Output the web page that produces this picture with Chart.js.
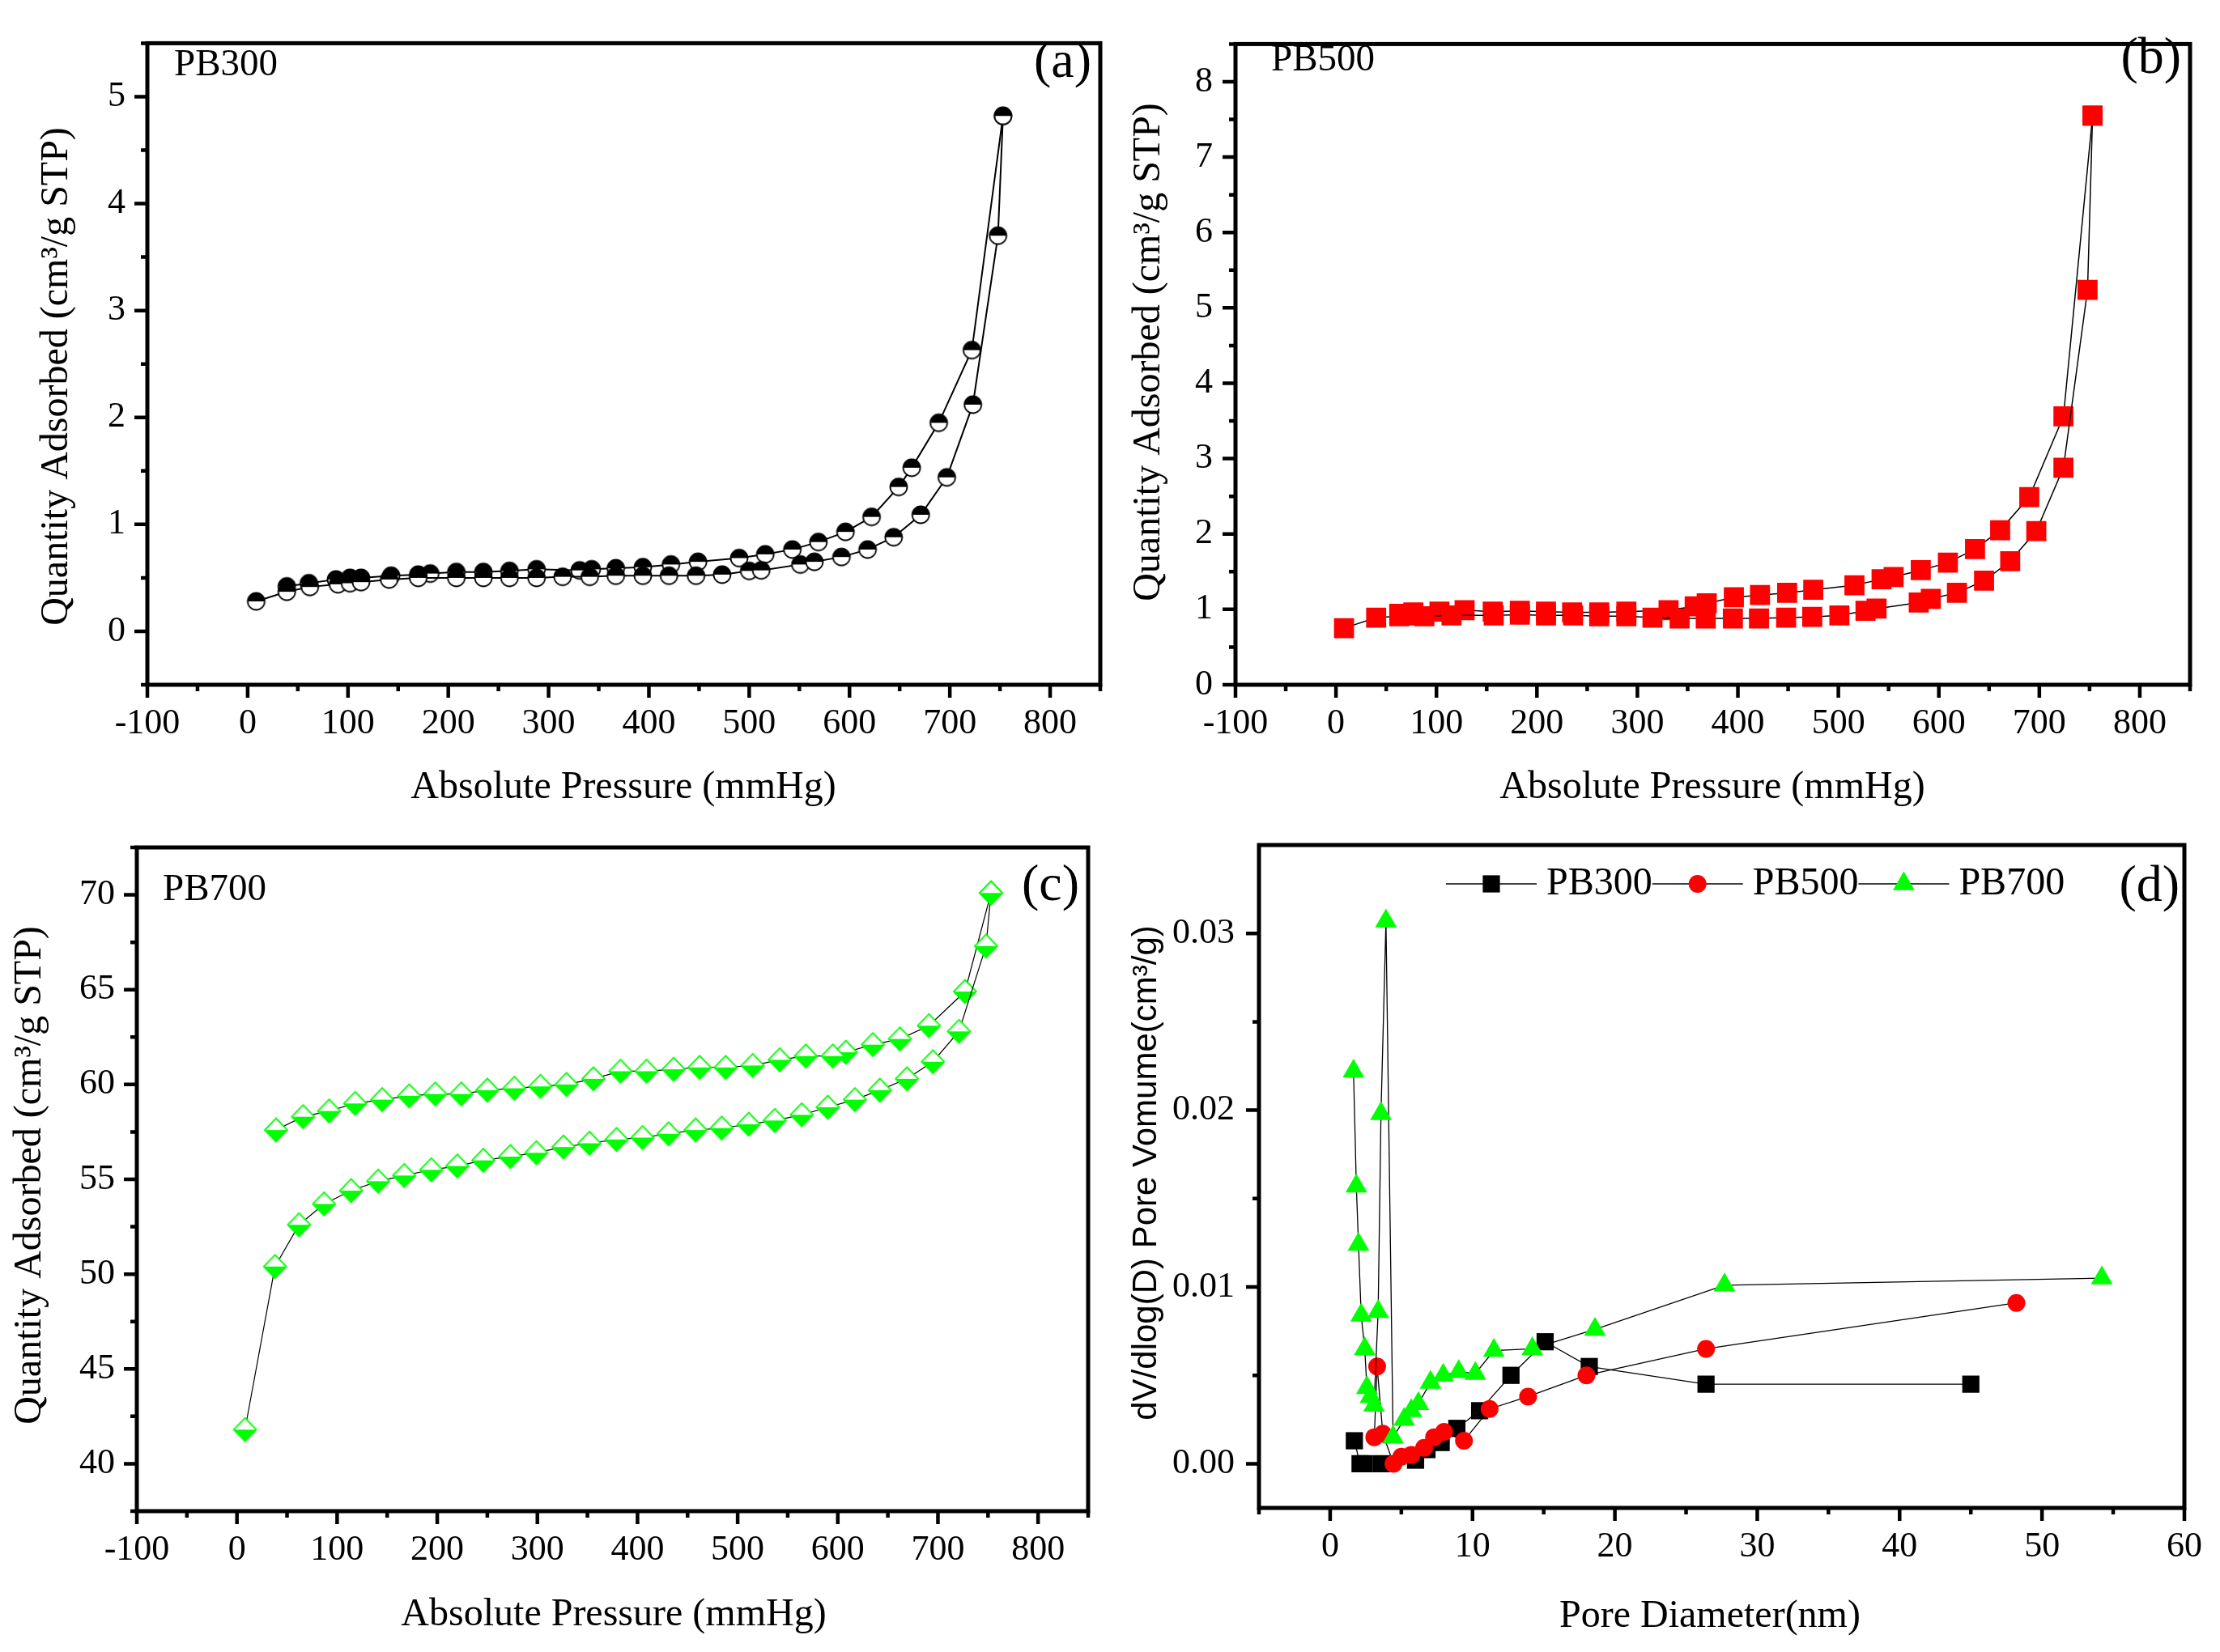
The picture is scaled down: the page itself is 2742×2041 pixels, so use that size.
<!DOCTYPE html>
<html>
<head>
<meta charset="utf-8">
<script src="https://cdn.jsdelivr.net/npm/chart.js@4.4.1/dist/chart.umd.min.js"></script>
<style>
  html, body { margin: 0; padding: 0; background: #fff; }
  #wrap { position: relative; width: 2742px; height: 2041px; overflow: hidden; }
  canvas { position: absolute; left: 0; top: 0; }
</style>
</head>
<body>
<div id="wrap">
  <canvas id="chartA" width="2742" height="2041"></canvas>
  <canvas id="chartB" width="2742" height="2041"></canvas>
  <canvas id="chartC" width="2742" height="2041"></canvas>
  <canvas id="chartD" width="2742" height="2041"></canvas>
</div>
<script>
const W = 2742;
const H = 2041;
const SERIF = '"Liberation Serif", "Times New Roman", serif';
const SANS = '"Liberation Sans", Arial, sans-serif';

// (a) PB300 isotherm, mmHg / cm3 g-1
const pb300AdsX = [8.5, 39, 62, 90, 102, 113, 141, 170, 208, 235, 261, 288, 314, 341, 367, 394, 420, 447, 473, 500, 512, 551, 565, 592, 618, 644, 671, 697, 723, 748, 753];
const pb300AdsY = [0.28, 0.37, 0.415, 0.44, 0.45, 0.46, 0.485, 0.50, 0.50, 0.50, 0.50, 0.50, 0.51, 0.51, 0.52, 0.52, 0.52, 0.52, 0.53, 0.565, 0.57, 0.625, 0.65, 0.695, 0.765, 0.88, 1.09, 1.44, 2.12, 3.70, 4.82];
const pb300DesX = [753, 722, 689, 662, 649, 622, 596, 569, 543, 516, 490, 449, 422, 394, 367, 343, 331, 288, 261, 235, 208, 182, 170, 143, 113, 102, 88, 61, 39];
const pb300DesY = [4.82, 2.63, 1.95, 1.53, 1.35, 1.07, 0.93, 0.835, 0.765, 0.72, 0.685, 0.65, 0.625, 0.60, 0.59, 0.58, 0.57, 0.58, 0.565, 0.555, 0.555, 0.54, 0.53, 0.52, 0.50, 0.50, 0.485, 0.45, 0.42];

// (b) PB500 isotherm
const pb500AdsX = [8, 40, 63, 77, 88, 115, 157, 183, 209, 236, 262, 289, 315, 342, 368, 395, 421, 448, 474, 501, 527, 538, 580, 592, 618, 645, 671, 697, 724, 748, 753];
const pb500AdsY = [0.75, 0.89, 0.91, 0.92, 0.91, 0.92, 0.92, 0.93, 0.92, 0.92, 0.91, 0.91, 0.89, 0.88, 0.88, 0.88, 0.88, 0.89, 0.90, 0.92, 0.98, 1.01, 1.09, 1.14, 1.22, 1.38, 1.64, 2.04, 2.88, 5.24, 7.55];
const pb500DesX = [753, 724, 690, 661, 636, 609, 582, 555, 543, 516, 475, 449, 422, 396, 369, 357, 331, 289, 262, 235, 209, 183, 156, 128, 103, 77, 63];
const pb500DesY = [7.55, 3.56, 2.49, 2.05, 1.80, 1.62, 1.52, 1.43, 1.40, 1.32, 1.26, 1.22, 1.19, 1.16, 1.08, 1.04, 0.99, 0.97, 0.96, 0.96, 0.97, 0.98, 0.97, 0.99, 0.97, 0.96, 0.94];

// (c) PB700 isotherm
const pb700AdsX = [8, 38, 62, 87, 114, 141, 167, 194, 220, 246, 273, 299, 326, 352, 379, 405, 431, 458, 484, 511, 537, 564, 590, 617, 642, 669, 695, 721, 748, 753];
const pb700AdsY = [41.8, 50.4, 52.6, 53.7, 54.4, 54.9, 55.2, 55.5, 55.7, 56.0, 56.2, 56.4, 56.7, 56.9, 57.1, 57.2, 57.4, 57.6, 57.7, 57.9, 58.1, 58.4, 58.8, 59.2, 59.7, 60.3, 61.2, 62.8, 67.3, 70.1];
const pb700DesX = [753, 727, 691, 662, 635, 608, 595, 568, 542, 515, 488, 462, 436, 409, 383, 356, 329, 303, 277, 250, 224, 198, 172, 145, 118, 92, 66, 39];
const pb700DesY = [70.1, 64.9, 63.1, 62.4, 62.1, 61.7, 61.5, 61.5, 61.3, 61.0, 60.9, 60.9, 60.8, 60.7, 60.7, 60.3, 60.0, 59.9, 59.8, 59.7, 59.5, 59.5, 59.4, 59.2, 59.0, 58.6, 58.3, 57.6];

// (d) pore size distribution, nm / cm3 g-1
const psdPb300X = [1.7, 2.1, 2.4, 3.6, 6.0, 6.8, 7.8, 8.9, 10.5, 12.7, 15.1, 18.2, 26.4, 45.0];
const psdPb300Y = [0.0013, 0.0000, 0.0000, 0.0000, 0.0002, 0.0008, 0.0012, 0.0020, 0.0030, 0.0050, 0.0069, 0.0055, 0.0045, 0.0045];
const psdPb500X = [3.1, 3.3, 3.7, 4.45, 5.0, 5.7, 6.6, 7.3, 8.0, 9.4, 11.2, 13.9, 18.0, 26.4, 48.2];
const psdPb500Y = [0.0015, 0.0055, 0.0017, 0.0000, 0.0004, 0.0005, 0.0009, 0.0015, 0.0018, 0.0013, 0.0031, 0.0038, 0.0050, 0.0065, 0.0091];
const psdPb700X = [1.64, 1.84, 1.99, 2.18, 2.43, 2.58, 2.83, 3.08, 3.37, 3.57, 3.92, 4.42, 5.2, 5.7, 6.2, 7.05, 7.94, 9.03, 10.2, 11.5, 14.2, 18.6, 27.7, 54.2];
const psdPb700Y = [0.0222, 0.0157, 0.0124, 0.0084, 0.0065, 0.0043, 0.0038, 0.0033, 0.0086, 0.0198, 0.0307, 0.0015, 0.0025, 0.0030, 0.0034, 0.0046, 0.0050, 0.0052, 0.0051, 0.0064, 0.0065, 0.0076, 0.0101, 0.0105];
const psdLabels = ['PB300', 'PB500', 'PB700'];

// tick values and labels
const pressureTicks = [-100, 0, 100, 200, 300, 400, 500, 600, 700, 800];
const pressureTickLabels = ['-100', '0', '100', '200', '300', '400', '500', '600', '700', '800'];
const pressureMinor = [-50, 50, 150, 250, 350, 450, 550, 650, 750, 850];
const pb300Ticks = [0, 1, 2, 3, 4, 5];
const pb300TickLabels = ['0', '1', '2', '3', '4', '5'];
const pb300Minor = [-0.5, 0.5, 1.5, 2.5, 3.5, 4.5, 5.5];
const pb500Ticks = [0, 1, 2, 3, 4, 5, 6, 7, 8];
const pb500TickLabels = ['0', '1', '2', '3', '4', '5', '6', '7', '8'];
const pb500Minor = [0.5, 1.5, 2.5, 3.5, 4.5, 5.5, 6.5, 7.5, 8.5];
const pb700Ticks = [40, 45, 50, 55, 60, 65, 70];
const pb700TickLabels = ['40', '45', '50', '55', '60', '65', '70'];
const pb700Minor = [37.5, 42.5, 47.5, 52.5, 57.5, 62.5, 67.5, 72.5];
const diamTicks = [0, 10, 20, 30, 40, 50, 60];
const diamTickLabels = ['0', '10', '20', '30', '40', '50', '60'];
const diamMinor = [-5, 5, 15, 25, 35, 45, 55];
const volTicks = [0, 0.01, 0.02, 0.03];
const volTickLabels = ['0.00', '0.01', '0.02', '0.03'];
const volMinor = [0.005, 0.015, 0.025];

const AXIS_W = 150;
const AXIS_H = 100;

function toPoints(xs, ys) {
  return xs.map((x, i) => ({ x: x, y: ys[i] }));
}

// Origin style marker: circle, top half black
function halfCircle() {
  const c = document.createElement('canvas');
  c.width = 26;
  c.height = 26;
  const g = c.getContext('2d');
  g.beginPath();
  g.arc(13, 13, 10.5, 0, 2 * Math.PI);
  g.fillStyle = '#fff';
  g.fill();
  g.beginPath();
  g.arc(13, 13, 10.5, Math.PI, 2 * Math.PI);
  g.closePath();
  g.fillStyle = '#000';
  g.fill();
  g.beginPath();
  g.arc(13, 13, 10.5, 0, 2 * Math.PI);
  g.lineWidth = 1.8;
  g.strokeStyle = '#000';
  g.stroke();
  return c;
}

// diamond, bottom half green
function halfDiamond() {
  const c = document.createElement('canvas');
  c.width = 34;
  c.height = 34;
  const g = c.getContext('2d');
  const m = 17, hw = 14, hh = 14.5;
  g.beginPath();
  g.moveTo(m, m - hh);
  g.lineTo(m + hw, m);
  g.lineTo(m, m + hh);
  g.lineTo(m - hw, m);
  g.closePath();
  g.fillStyle = '#fff';
  g.fill();
  g.beginPath();
  g.moveTo(m - hw, m);
  g.lineTo(m + hw, m);
  g.lineTo(m, m + hh);
  g.closePath();
  g.fillStyle = '#00ff00';
  g.fill();
  g.beginPath();
  g.moveTo(m, m - hh);
  g.lineTo(m + hw, m);
  g.lineTo(m, m + hh);
  g.lineTo(m - hw, m);
  g.closePath();
  g.lineWidth = 1.8;
  g.strokeStyle = '#00ff00';
  g.stroke();
  return c;
}

function tickBuilder(majors, labels, minors) {
  return (scale) => {
    const list = majors.map((v, i) => ({ value: v, big: true, txt: labels[i] }))
      .concat(minors.map((v) => ({ value: v, big: false, txt: '' })));
    list.sort((a, b) => a.value - b.value);
    scale.ticks = list;
  };
}

function axis(isX, range, majors, labels, minors, pad) {
  return {
    type: 'linear',
    position: isX ? 'bottom' : 'left',
    min: range[0],
    max: range[1],
    grid: { display: false, drawTicks: false },
    border: { display: false },
    afterBuildTicks: tickBuilder(majors, labels, minors),
    afterFit: (scale) => {
      if (isX) scale.height = AXIS_H;
      else scale.width = AXIS_W;
    },
    ticks: {
      autoSkip: false,
      maxRotation: 0,
      minRotation: 0,
      padding: pad,
      color: '#000',
      font: { family: SERIF, size: 44 },
      callback: (v, i, ticks) => ticks[i].txt,
    },
  };
}

// frame, outward ticks, axis titles and panel texts
function framePlugin(panel) {
  return {
    id: 'frame',
    afterDraw(chart) {
      const ctx = chart.ctx;
      const a = chart.chartArea;
      const xs = chart.scales.x;
      const ys = chart.scales.y;
      ctx.save();
      ctx.strokeStyle = '#000';
      ctx.lineWidth = 5;
      ctx.strokeRect(a.left, a.top, a.right - a.left, a.bottom - a.top);
      ctx.lineWidth = 4.5;
      ctx.beginPath();
      for (const t of xs.ticks) {
        const px = xs.getPixelForValue(t.value);
        ctx.moveTo(px, a.bottom);
        ctx.lineTo(px, a.bottom + (t.big ? 16 : 8));
      }
      for (const t of ys.ticks) {
        const py = ys.getPixelForValue(t.value);
        ctx.moveTo(a.left, py);
        ctx.lineTo(a.left - (t.big ? 16 : 8), py);
      }
      ctx.stroke();

      ctx.fillStyle = '#000';
      ctx.textBaseline = 'middle';
      ctx.textAlign = 'center';
      ctx.font = panel.xTitle.font;
      ctx.fillText(panel.xTitle.text, panel.xTitle.x, panel.xTitle.y);
      ctx.save();
      ctx.translate(panel.yTitle.x, panel.yTitle.y);
      ctx.rotate(-Math.PI / 2);
      ctx.font = panel.yTitle.font;
      ctx.fillText(panel.yTitle.text, 0, 0);
      ctx.restore();

      for (const lb of panel.labels) {
        ctx.font = lb.font;
        ctx.textAlign = lb.align;
        ctx.fillText(lb.text, lb.x, lb.y);
      }
      ctx.restore();
    },
  };
}

// legend row: line - marker - line, then name
const lineLegend = {
  id: 'lineLegend',
  afterDraw(chart) {
    const ctx = chart.ctx;
    const y = 1092;
    let x = 1786;
    ctx.save();
    ctx.font = '48px ' + SERIF;
    ctx.textBaseline = 'middle';
    ctx.textAlign = 'left';
    chart.data.datasets.forEach((ds) => {
      ctx.strokeStyle = '#000';
      ctx.lineWidth = 1.5;
      ctx.beginPath();
      ctx.moveTo(x, y);
      ctx.lineTo(x + 112, y);
      ctx.stroke();
      ctx.fillStyle = ds.pointBackgroundColor;
      Chart.helpers.drawPoint(ctx, {
        pointStyle: ds.pointStyle,
        radius: ds.pointRadius,
        rotation: 0,
        borderWidth: 0,
      }, x + 56, y);
      ctx.fillStyle = '#000';
      ctx.fillText(ds.label, x + 124, y);
      x += 124 + ctx.measureText(ds.label).width;
    });
    ctx.restore();
  },
};

function padFor(box) {
  return {
    left: box.l - AXIS_W,
    top: box.t,
    right: W - box.r,
    bottom: H - box.b - AXIS_H,
  };
}

function makeChart(id, box, xAxis, yAxis, datasets, panel, extra) {
  const plugins = [framePlugin(panel)];
  if (extra) plugins.push(extra);
  return new Chart(document.getElementById(id).getContext('2d'), {
    type: 'scatter',
    data: { datasets: datasets },
    options: {
      responsive: false,
      animation: false,
      events: [],
      layout: { padding: padFor(box) },
      plugins: { legend: { display: false }, tooltip: { enabled: false } },
      scales: { x: xAxis, y: yAxis },
    },
    plugins: plugins,
  });
}

function isoSet(label, xs, ys, marker, width) {
  return {
    label: label,
    data: toPoints(xs, ys),
    showLine: true,
    borderColor: '#000',
    borderWidth: width,
    pointStyle: marker,
    pointRadius: 12,
  };
}

const xTitleFont = '48px ' + SERIF;
const yTitleFont = '48px ' + SERIF;
const tagFont = '47px ' + SERIF;
const letterFont = '64px ' + SERIF;

window.addEventListener('load', () => {
  const circ = halfCircle();
  const diam = halfDiamond();

  // (a)
  makeChart('chartA', { l: 182, t: 25, r: 1359, b: 846 },
    axis(true, [-100, 850], pressureTicks, pressureTickLabels, pressureMinor, 22),
    axis(false, [-0.5, 5.5], pb300Ticks, pb300TickLabels, pb300Minor, 27),
    [
      isoSet('Adsorption', pb300AdsX, pb300AdsY, circ, 2),
      isoSet('Desorption', pb300DesX, pb300DesY, circ, 2),
    ],
    {
      xTitle: { text: 'Absolute Pressure (mmHg)', x: 770, y: 973, font: xTitleFont },
      yTitle: { text: 'Quantity Adsorbed (cm³/g STP)', x: 70, y: 465, font: yTitleFont },
      labels: [
        { text: 'PB300', x: 215, y: 81, align: 'left', font: tagFont },
        { text: '(a)', x: 1348, y: 78, align: 'right', font: letterFont },
      ],
    });

  // (b)
  makeChart('chartB', { l: 1526, t: 25, r: 2705, b: 846 },
    axis(true, [-100, 850], pressureTicks, pressureTickLabels, pressureMinor, 22),
    axis(false, [0, 8.5], pb500Ticks, pb500TickLabels, pb500Minor, 28),
    [
      Object.assign(isoSet('Adsorption', pb500AdsX, pb500AdsY, 'rect', 1.5),
        { pointRadius: 17.5, pointBackgroundColor: '#ff0000', pointBorderWidth: 0 }),
      Object.assign(isoSet('Desorption', pb500DesX, pb500DesY, 'rect', 1.5),
        { pointRadius: 17.5, pointBackgroundColor: '#ff0000', pointBorderWidth: 0 }),
    ],
    {
      xTitle: { text: 'Absolute Pressure (mmHg)', x: 2115, y: 973, font: xTitleFont },
      yTitle: { text: 'Quantity Adsorbed (cm³/g STP)', x: 1419, y: 435, font: yTitleFont },
      labels: [
        { text: 'PB500', x: 1570, y: 75, align: 'left', font: tagFont },
        { text: '(b)', x: 2694, y: 73, align: 'right', font: letterFont },
      ],
    });

  // (c)
  makeChart('chartC', { l: 169, t: 1047, r: 1344, b: 1867 },
    axis(true, [-100, 850], pressureTicks, pressureTickLabels, pressureMinor, 22),
    axis(false, [37.5, 72.5], pb700Ticks, pb700TickLabels, pb700Minor, 27),
    [
      isoSet('Adsorption', pb700AdsX, pb700AdsY, diam, 1.2),
      isoSet('Desorption', pb700DesX, pb700DesY, diam, 1.2),
    ],
    {
      xTitle: { text: 'Absolute Pressure (mmHg)', x: 758, y: 1995, font: xTitleFont },
      yTitle: { text: 'Quantity Adsorbed (cm³/g STP)', x: 37, y: 1452, font: yTitleFont },
      labels: [
        { text: 'PB700', x: 201, y: 1100, align: 'left', font: tagFont },
        { text: '(c)', x: 1333, y: 1095, align: 'right', font: letterFont },
      ],
    });

  // (d)
  makeChart('chartD', { l: 1555, t: 1044, r: 2702, b: 1863 },
    axis(true, [-5, 60], diamTicks, diamTickLabels, diamMinor, 22),
    axis(false, [-0.0025, 0.035], volTicks, volTickLabels, volMinor, 30),
    [
      {
        label: psdLabels[0], data: toPoints(psdPb300X, psdPb300Y), showLine: true, order: 3,
        borderColor: '#000', borderWidth: 1.3,
        pointStyle: 'rect', pointRadius: 15, pointBackgroundColor: '#000', pointBorderWidth: 0,
      },
      {
        label: psdLabels[1], data: toPoints(psdPb500X, psdPb500Y), showLine: true, order: 2,
        borderColor: '#000', borderWidth: 1.3,
        pointStyle: 'circle', pointRadius: 11, pointBackgroundColor: '#ff0000', pointBorderWidth: 0,
      },
      {
        label: psdLabels[2], data: toPoints(psdPb700X, psdPb700Y), showLine: true, order: 1,
        borderColor: '#000', borderWidth: 1.3,
        pointStyle: 'triangle', pointRadius: 15.5, pointBackgroundColor: '#00ff00', pointBorderWidth: 0,
      },
    ],
    {
      xTitle: { text: 'Pore Diameter(nm)', x: 2112, y: 1997, font: xTitleFont },
      yTitle: { text: 'dV/dlog(D) Pore Vomume(cm³/g)', x: 1416, y: 1449, font: '42px ' + SANS },
      labels: [
        { text: '(d)', x: 2692, y: 1096, align: 'right', font: letterFont },
      ],
    },
    lineLegend);
});
</script>
</body>
</html>
